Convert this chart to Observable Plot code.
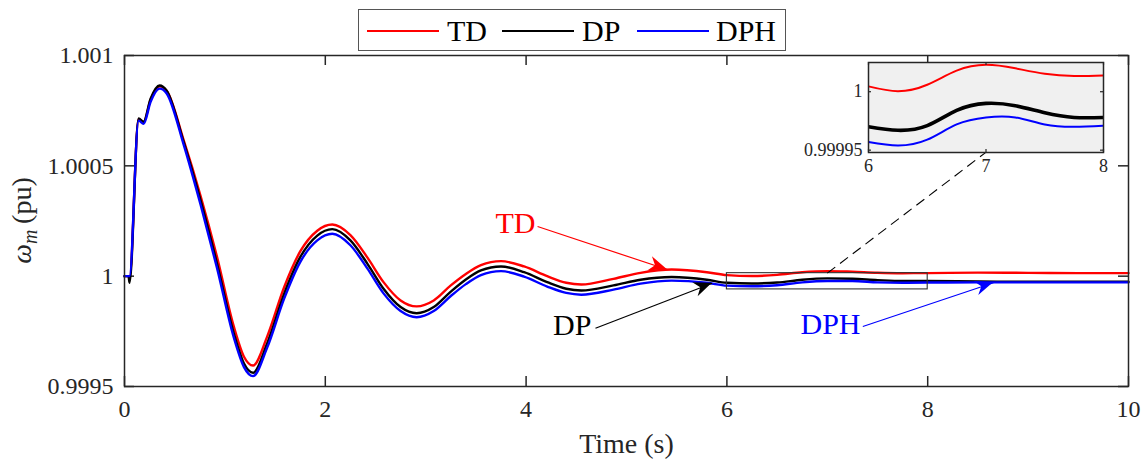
<!DOCTYPE html>
<html><head><meta charset="utf-8">
<script src="https://cdn.jsdelivr.net/npm/d3@7"></script>
<script src="https://cdn.jsdelivr.net/npm/@observablehq/plot@0.6"></script>
<style>
body{margin:0;background:#fff;}
#wrap{position:relative;width:1144px;height:460px;overflow:hidden;background:#fff;font-family:"Liberation Serif","Times New Roman",serif;}
#main,#inset,#legend{position:absolute;}
#legend{left:358px;top:9px;width:426px;height:40px;border:1.3px solid #555;background:#fff;}
#legend .sw{position:absolute;top:20px;height:2px;}
#legend .lb{position:absolute;top:0;line-height:42px;font-size:30px;color:#000;}
</style></head><body>
<div id="wrap"><div id="main"></div><div id="inset"></div><div id="legend"></div></div>
<script>
// ---------- data ----------
const seriesNames = ["TD", "DP", "DPH"];
const seriesColors = ["#ff0000", "#000000", "#0000ff"];

const time = [0, 0.04, 0.05, 0.14, 0.19, 0.26, 0.35, 0.42, 0.59, 0.76, 0.92, 1.09, 1.19, 1.28, 1.42, 1.59, 1.75, 1.92, 2.07, 2.25, 2.42, 2.58, 2.75, 2.91, 3.08, 3.25, 3.40, 3.55, 3.75, 3.98, 4.21, 4.40, 4.55, 4.87, 5.14, 5.45, 5.80, 6.00, 6.25, 6.50, 6.75, 7.00, 7.25, 7.50, 7.75, 8.00, 8.50, 9.00, 9.50, 10.0];

const tdValues = [1.000000, 1.000000, 0.999990, 1.000712, 1.000698, 1.000800, 1.000860, 1.000840, 1.000615, 1.000360, 1.000090, 0.999770, 0.999635, 0.999595, 0.999725, 0.999950, 1.000112, 1.000206, 1.000234, 1.000186, 1.000084, 0.999973, 0.999890, 0.999863, 0.999890, 0.999958, 1.000010, 1.000050, 1.000068, 1.000044, 1.000000, 0.999970, 0.999962, 0.999988, 1.000015, 1.000030, 1.000018, 1.0000046, 1.0000005, 1.000006, 1.000018, 1.000023, 1.000020, 1.0000154, 1.0000135, 1.000014, 1.000016, 1.000015, 1.000014, 1.000014];

const dpValues = [1.000000, 1.000000, 0.999970, 1.000715, 1.000700, 1.000804, 1.000864, 1.000841, 1.000607, 1.000340, 1.000060, 0.999739, 0.999604, 0.999562, 0.999694, 0.999920, 1.000086, 1.000184, 1.000213, 1.000162, 1.000056, 0.999943, 0.999860, 0.999832, 0.999860, 0.999930, 0.999985, 1.000026, 1.000044, 1.000018, 0.999973, 0.999943, 0.999935, 0.999958, 0.999984, 0.999996, 0.999984, 0.999970, 0.999967, 0.999971, 0.999984, 0.999990, 0.999988, 0.999982, 0.999978, 0.999978, 0.999976, 0.999975, 0.999975, 0.999975];

const dphValues = [1.000000, 1.000000, 1.000000, 1.000705, 1.000690, 1.000790, 1.000850, 1.000828, 1.000595, 1.000320, 1.000040, 0.999720, 0.999588, 0.999547, 0.999675, 0.999898, 1.000064, 1.000162, 1.000192, 1.000140, 1.000034, 0.999922, 0.999842, 0.999814, 0.999842, 0.999910, 0.999964, 1.000005, 1.000023, 0.999998, 0.999953, 0.999924, 0.999916, 0.999939, 0.999966, 0.999980, 0.999970, 0.999957, 0.999954, 0.999959, 0.999972, 0.999978, 0.999978, 0.999972, 0.999970, 0.999971, 0.999972, 0.999972, 0.999972, 0.999972];

const xDomain = [0, 10];
const yDomain = [0.9995, 1.001];
const xTicks = [0, 2, 4, 6, 8, 10];
const xTickLabels = ["0", "2", "4", "6", "8", "10"];
const yTicks = [0.9995, 1, 1.0005, 1.001];
const yTickLabels = ["0.9995", "1", "1.0005", "1.001"];
const xLabel = "Time (s)";

// inset (zoom of 6–8 s)
const insetXDomain = [6, 8];
const insetYDomain = [0.999948, 1.000025];
const insetXTicks = [6, 7, 8];
const insetXTickLabels = ["6", "7", "8"];
const insetYTicks = [0.99995, 1];
const insetYTickLabels = ["0.99995", "1"];
const zoomBoxT = [6, 8];
const zoomBoxV = [0.99994, 1.0000136];
const zoomLinkT = [7.0, 8.576];
const zoomLinkV = [1.0000136, 1.00056];

// annotations
const annLabels = ["TD", "DP", "DPH"];
const annTextT = [3.894, 4.459, 7.032];
const annTextV = [1.000239, 0.999777, 0.999781];
const annFromT = [4.114, 4.691, 7.354];
const annFromV = [1.000225, 0.999764, 0.999772];
const annToT = [5.405, 5.854, 8.655];
const annToV = [1.000030, 0.999968, 0.999970];

// ---------- tables ----------
const seriesValues = [tdValues, dpValues, dphValues];
const rows = seriesNames.map((s, k) => time.map((t, i) => ({t, v: seriesValues[k][i], s})));
const annRows = annLabels.map((lab, i) => ({lab, color: seriesColors[seriesNames.indexOf(lab)],
  tx: annTextT[i], tv: annTextV[i], x1: annFromT[i], y1: annFromV[i], x2: annToT[i], y2: annToV[i]}));

const FONT = '"Liberation Serif", "Times New Roman", serif';
const W = 1144, H = 460, mL = 124, mR = 16, mT = 55, mB = 74;
const pw = W - mL - mR, ph = H - mT - mB;
const TK = 10;

const main = Plot.plot({
  width: W, height: H, marginLeft: mL, marginRight: mR, marginTop: mT, marginBottom: mB,
  style: {fontFamily: FONT, fontSize: "24px", color: "#262626", background: "transparent", overflow: "visible"},
  x: {domain: xDomain, label: null},
  y: {domain: yDomain, label: null},
  marks: [
    Plot.axisX({ticks: xTicks, tickSize: 0, tickPadding: 13, label: null, fill: "#262626", fontFamily: FONT,
      tickFormat: d => xTickLabels[xTicks.indexOf(d)]}),
    Plot.axisY({ticks: yTicks, tickSize: 0, tickPadding: 11, label: null, fill: "#262626", fontFamily: FONT,
      tickFormat: d => yTickLabels[yTicks.indexOf(d)]}),
    Plot.tickX(xTicks, {x: d => d, insetTop: ph - TK, stroke: "#262626", strokeWidth: 1.5}),
    Plot.tickX(xTicks, {x: d => d, insetBottom: ph - TK, stroke: "#262626", strokeWidth: 1.5}),
    Plot.tickY(yTicks, {y: d => d, insetRight: pw - TK, stroke: "#262626", strokeWidth: 1.5}),
    Plot.tickY(yTicks, {y: d => d, insetLeft: pw - TK, stroke: "#262626", strokeWidth: 1.5}),
    ...rows.map((r, k) => Plot.line(r, {x: "t", y: "v", stroke: seriesColors[k], strokeWidth: 2.4, curve: "monotone-x"})),
    Plot.rect([0], {x1: () => zoomBoxT[0], x2: () => zoomBoxT[1], y1: () => zoomBoxV[0], y2: () => zoomBoxV[1],
      fill: "none", stroke: "#333", strokeWidth: 1.1}),
    Plot.link([0], {x1: () => zoomLinkT[0], y1: () => zoomLinkV[0], x2: () => zoomLinkT[1], y2: () => zoomLinkV[1],
      stroke: "#000", strokeWidth: 1.1, strokeDasharray: "10,6"}),
    Plot.link(annRows, {x1: "x1", y1: "y1", x2: "x2", y2: "y2", stroke: d => d.color, strokeWidth: 1.2}),
    Plot.text(annRows, {x: "tx", y: "tv", text: "lab", fill: d => d.color, fontSize: 30, fontFamily: FONT, textAnchor: "middle", lineAnchor: "middle"}),
    Plot.text([xLabel], {frameAnchor: "bottom", dy: 58, fontSize: 28, fontFamily: FONT, fill: "#262626", lineAnchor: "middle", text: d => d}),
    Plot.frame({stroke: "#262626", strokeWidth: 1.5})
  ]
});
document.getElementById("main").appendChild(main);

// arrow heads (filled), positioned through the plot's own scales
const sx = main.scale("x"), sy = main.scale("y");
const msvg = d3.select(main);
annRows.forEach(d => {
  const x1 = sx.apply(d.x1), y1 = sy.apply(d.y1), x2 = sx.apply(d.x2), y2 = sy.apply(d.y2);
  const a = Math.atan2(y2 - y1, x2 - x1);
  const L = 18, Wd = 15;
  const pts = [[0, 0], [-L, -Wd / 2], [-0.68 * L, 0], [-L, Wd / 2]].map(([px, py]) =>
    [x2 + px * Math.cos(a) - py * Math.sin(a), y2 + px * Math.sin(a) + py * Math.cos(a)]);
  msvg.append("path").attr("d", "M" + pts.map(p => p.join(",")).join("L") + "Z").attr("fill", d.color);
});

// y-axis label with subscript
const yl = msvg.append("text")
  .attr("transform", `translate(31,${mT + ph / 2}) rotate(-90)`)
  .attr("text-anchor", "middle").style("font-size", "28px").style("font-family", FONT).attr("fill", "#262626");
yl.append("tspan").attr("font-style", "italic").text("ω");
yl.append("tspan").attr("font-style", "italic").style("font-size", "20px").attr("dy", 6).text("m");
yl.append("tspan").attr("dy", -6).text("\u2009(pu)");

// ---------- inset ----------
const iW = 340, iH = 130, iL = 88, iR = 17, iT = 12, iB = 28;
const ipw = iW - iL - iR, iph = iH - iT - iB;
const insetRows = rows.map(r => r.filter(d => d.t >= insetXDomain[0] && d.t <= insetXDomain[1]));
const insetWidths = [2, 3.6, 2];
const inset = Plot.plot({
  width: iW, height: iH, marginLeft: iL, marginRight: iR, marginTop: iT, marginBottom: iB,
  style: {fontFamily: FONT, fontSize: "18px", color: "#262626", background: "transparent", overflow: "visible"},
  x: {domain: insetXDomain, label: null},
  y: {domain: insetYDomain, label: null},
  marks: [
    Plot.frame({fill: "#f0f0f0"}),
    ...insetRows.map((r, k) => Plot.line(r, {x: "t", y: "v", stroke: seriesColors[k], strokeWidth: insetWidths[k], curve: "natural", clip: true})),
    Plot.axisX({ticks: insetXTicks, tickSize: 0, tickPadding: 7, label: null, fill: "#262626", fontFamily: FONT,
      tickFormat: d => insetXTickLabels[insetXTicks.indexOf(d)]}),
    Plot.axisY({ticks: insetYTicks, tickSize: 0, tickPadding: 6, label: null, fill: "#262626", fontFamily: FONT,
      tickFormat: d => insetYTickLabels[insetYTicks.indexOf(d)]}),
    Plot.tickX(insetXTicks, {x: d => d, insetTop: iph - 3, stroke: "#262626", strokeWidth: 1.2}),
    Plot.tickX(insetXTicks, {x: d => d, insetBottom: iph - 3, stroke: "#262626", strokeWidth: 1.2}),
    Plot.tickY(insetYTicks, {y: d => d, insetRight: ipw - 3, stroke: "#262626", strokeWidth: 1.2}),
    Plot.tickY(insetYTicks, {y: d => d, insetLeft: ipw - 3, stroke: "#262626", strokeWidth: 1.2}),
    Plot.frame({stroke: "#262626", strokeWidth: 1.5})
  ]
});
const insetDiv = document.getElementById("inset");
insetDiv.style.left = "780px"; insetDiv.style.top = "50px";
insetDiv.appendChild(inset);

// ---------- legend ----------
const legendSwatchLeft = [8, 143, 278];
const legendLabelLeft = [88, 223, 357];
const leg = document.getElementById("legend");
seriesNames.forEach((s, k) => {
  const sw = document.createElement("div");
  sw.className = "sw"; sw.style.left = legendSwatchLeft[k] + "px"; sw.style.width = "72px";
  sw.style.background = seriesColors[k];
  leg.appendChild(sw);
  const lb = document.createElement("div");
  lb.className = "lb"; lb.style.left = legendLabelLeft[k] + "px"; lb.textContent = s;
  leg.appendChild(lb);
});
</script>
</body></html>
